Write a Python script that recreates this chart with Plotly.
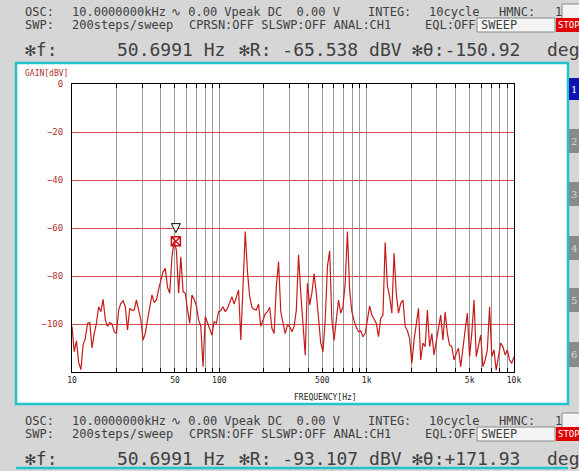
"""
FRA gain sweep screen (10 Hz - 10 kHz, 200 steps)
"""

import numpy as np
import plotly.graph_objects as go

# sweep setup: 200 log steps from 10 Hz to 10 kHz
f_start = 10
f_stop = 10000
n_steps = 200

# measured gain [dBV], one value per sweep step
gain_db = [
    -101, -111.5, -107, -116, -119, -108.7, -106, -99.7, -99.4, -110,
    -104, -99.7, -92.8, -94.9, -89.7, -98.3, -101, -99.4, -100, -103.2,
    -104, -94.2, -91.4, -90.3, -92.8, -102.5, -93.5, -94.2, -94.2, -90,
    -94.2, -98.3, -106.7, -103.9, -98.3, -93.5, -87.9, -91.1, -90, -85.6,
    -81.7, -78.2, -76.8, -84.7, -87.2, -72, -65.5, -69.2, -87.2, -72,
    -86.5, -87.2, -94.2, -99.7, -87.9, -89.7, -92.5, -98.3, -101, -117.8,
    -96.9, -99.7, -102.5, -104.6, -99, -99.7, -94.9, -94.4, -92.8, -94.9,
    -93.5, -90.7, -88.6, -91.7, -88.6, -85.8, -106.7, -83, -61.5, -78.2,
    -88.6, -93, -93.9, -94.2, -91.7, -101, -98.3, -95.8, -94.9, -93,
    -101.8, -104, -84.4, -74, -94.9, -99.7, -104, -100.4, -101, -103.2,
    -101, -94.2, -71.2, -87.2, -102.5, -113, -83, -92, -87.2, -79,
    -87.2, -99.7, -108, -111.5, -98.3, -76, -69.5, -98.3, -106.7, -98.3,
    -90, -95.5, -92.8, -83, -61.5, -85.8, -94.9, -98.6, -101.4, -103.2,
    -102.8, -105.3, -103.9, -98.3, -92.5, -96.3, -98.3, -99.7, -105.3, -97.6,
    -96.3, -66, -84, -88.6, -95.5, -70.5, -87.2, -95.5, -91.4, -90,
    -101, -102.8, -106, -116.4, -106.7, -100.4, -93.5, -115, -108, -109.4,
    -94.2, -109.4, -104, -112.9, -107.4, -103.2, -96.3, -106.7, -94.9, -103.9,
    -108.8, -109.4, -115, -112.2, -110.1, -117.8, -109.4, -102.5, -95.5, -113.6,
    -103.9, -90, -113.6, -109.4, -104.6, -117.8, -115, -110.8, -92.8, -113.6,
    -110.8, -119.2, -113.6, -108, -109.4, -112.9, -110.8, -115, -116.4, -113.6,
]

# marker readout
mk_freq = 50.6991
mk_gain = -65.538

# axis ticks
x_ticks = [10, 20, 30, 40, 50, 60, 70, 80, 90,
           100, 200, 300, 400, 500, 600, 700, 800, 900,
           1000, 2000, 3000, 4000, 5000, 6000, 7000, 8000, 9000, 10000]
x_labels = {10: '10', 50: '50', 100: '100', 500: '500', 1000: '1k', 5000: '5k', 10000: '10k'}
y_ticks = [0, -20, -40, -60, -80, -100]

freq = np.logspace(np.log10(f_start), np.log10(f_stop), n_steps)

W, H = 579, 471
L, R, T, B = 72, 514, 84, 372   # plot area in pixels


def px(x):
    return (x - L) / (R - L)


def py(y):
    return (B - y) / (B - T)


MONO = 'DejaVu Sans Mono'
TXT = '#404040'
BG = '#d6d6d6'
CYAN = '#22c4cc'

fig = go.Figure()

fig.add_trace(go.Scatter(
    x=freq, y=gain_db, mode='lines',
    line=dict(color='#c41c1c', width=1.2),
    showlegend=False, hoverinfo='skip'
))

# marker and arrow
fig.add_trace(go.Scatter(
    x=[mk_freq], y=[mk_gain], mode='markers',
    marker=dict(symbol='square-x-open', size=9, color='#d01010', line=dict(width=1.5)),
    showlegend=False, hoverinfo='skip'
))
fig.add_trace(go.Scatter(
    x=[mk_freq], y=[mk_gain + 3.6], mode='markers',
    marker=dict(symbol='arrow-down', size=9, color='white', line=dict(color='black', width=1)),
    showlegend=False, hoverinfo='skip', cliponaxis=False
))

shapes = []
annos = []


def box(x0, y0, x1, y1, fill, line=None, lw=0):
    shapes.append(dict(type='rect', xref='paper', yref='paper', layer='below',
                       x0=px(x0), x1=px(x1), y0=py(y1), y1=py(y0),
                       fillcolor=fill, line=dict(color=line or fill, width=lw)))


def text(x, y, s, size=12, color=TXT, anchor='left', family=MONO):
    annos.append(dict(xref='paper', yref='paper', x=px(x), y=py(y), text=s,
                      showarrow=False, xanchor=anchor, yanchor='middle',
                      font=dict(family=family, size=size, color=color)))


# main panel
box(16, 63, 568, 404, 'white', CYAN, 2.5)
# next panel top edge
shapes.append(dict(type='line', xref='paper', yref='paper', layer='below',
                   x0=px(16), x1=px(568), y0=py(468), y1=py(468),
                   line=dict(color=CYAN, width=2.5)))

# side tabs
tab_y = [(78, 100), (129, 153), (182, 206), (236, 260), (288, 312), (342, 367)]
for k, (y0, y1) in enumerate(tab_y):
    fill = '#0a14b4' if k == 0 else '#8a8a8a'
    box(569, y0, 580, y1, fill)
    text(574, (y0 + y1) / 2, str(k + 1), size=10,
         color='white' if k == 0 else '#d8d8d8', anchor='center', family='DejaVu Serif')


def status_block(y0, r_val, th_val):
    # line 1
    text(23, y0, 'OSC:')
    text(70, y0, '10.0000000kHz')
    text(169, y0, '∿ 0.00 Vpeak DC  0.00 V')
    text(366, y0, 'INTEG:')
    text(427, y0, '10cycle')
    text(497, y0, 'HMNC:')
    text(553, y0, '1')
    box(562, y0 - 8, 582, y0 + 8, '#f4f4f4', '#888888', 1)
    # line 2
    y1 = y0 + 13
    text(23, y1, 'SWP:')
    text(70, y1, '200steps/sweep')
    text(187, y1, 'CPRSN:OFF SLSWP:OFF ANAL:CH1')
    text(423, y1, 'EQL:OFF')
    box(477, y1 - 7, 555, y1 + 7, '#f4f4f4', '#888888', 1)
    text(479, y1, 'SWEEP')
    box(556, y1 - 7, 582, y1 + 7, '#e00000')
    text(556, y1, 'STOP', size=9, color='white')
    # line 3
    y2 = y0 + 37
    text(23, y2, '✻f:', size=18)
    text(115, y2, '50.6991 Hz', size=18)
    text(237, y2, '✻R: ' + r_val + ' dBV', size=18)
    text(410, y2, '✻θ:' + th_val, size=18)
    text(545, y2, 'deg', size=18)


status_block(12, '-65.538', '-150.92')
status_block(421, '-93.107', '+171.93')

# axis titles
text(23, 73, 'GAIN[dBV]', size=8, color='#b03030')
text(325, 397, 'FREQUENCY[Hz]', size=8, color='#222222', anchor='center')

fig.update_layout(
    width=W, height=H,
    margin=dict(l=L, r=W - R, t=T, b=H - B),
    paper_bgcolor=BG, plot_bgcolor='white',
    shapes=shapes, annotations=annos,
    showlegend=False
)

fig.update_xaxes(
    type='log', range=[np.log10(f_start), np.log10(f_stop)],
    tickvals=x_ticks, ticktext=[x_labels.get(v, '') for v in x_ticks],
    showgrid=True, gridcolor='#9a9a9a', gridwidth=1,
    ticks='inside', ticklen=4, tickcolor='black', mirror='ticks',
    showline=True, linecolor='black', linewidth=1,
    tickfont=dict(family=MONO, size=8, color='#222222'),
    zeroline=False
)
fig.update_yaxes(
    range=[-120, 0], tickvals=y_ticks,
    showgrid=True, gridcolor='#d24a4a', gridwidth=1.2,
    showline=True, linecolor='black', linewidth=1, mirror=True,
    ticks='', ticklabelstandoff=6,
    tickfont=dict(family=MONO, size=9, color='#b03030'),
    zeroline=False
)

# page body has a default 8px margin; drop it so the figure fills the window
fig.write_html("out.html", config={'displayModeBar': False},
               post_script="document.body.style.margin='0';")
